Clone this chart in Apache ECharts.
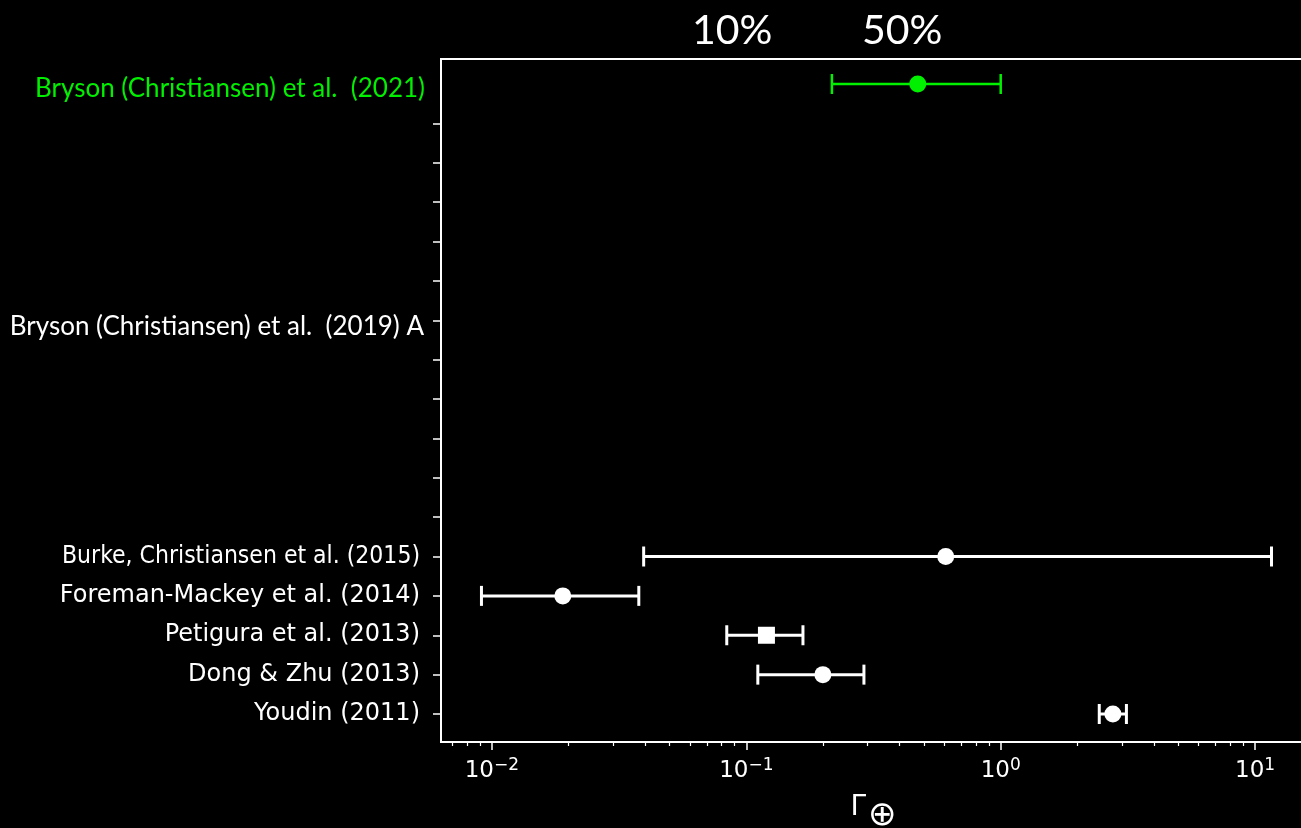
<!DOCTYPE html>
<html>
<head>
<meta charset="utf-8">
<script src="https://cdn.jsdelivr.net/npm/echarts@6/dist/echarts.min.js"></script>
<style>
html,body{margin:0;padding:0;background:#000;}
#chart{width:1301px;height:828px;}
</style>
</head>
<body>
<div id="chart"></div>
<script>
// ---- data ----
const rowLabels = ['Youdin (2011)', 'Dong & Zhu (2013)', 'Petigura et al. (2013)',
  'Foreman-Mackey et al. (2014)', 'Burke, Christiansen et al. (2015)', '', '', '', '', '',
  'Bryson (Christiansen) et al.  (2019) A', '', '', '', '', '', 'Bryson (Christiansen) et al.  (2021)'];
const studies = ['Youdin (2011)', 'Dong & Zhu (2013)', 'Petigura et al. (2013)',
  'Foreman-Mackey et al. (2014)', 'Burke, Christiansen et al. (2015)', 'Bryson (Christiansen) et al.  (2021)'];
const studyRows = [0, 1, 2, 3, 4, 16];
const estimates = [2.76, 0.200, 0.120, 0.019, 0.608, 0.472];
const lowerBounds = [2.44, 0.111, 0.0838, 0.0091, 0.0395, 0.217];
const upperBounds = [3.12, 0.290, 0.167, 0.0378, 11.6, 1.0];
const markerShapes = ['circle', 'circle', 'rect', 'circle', 'circle', 'circle'];
const highlighted = [false, false, false, false, false, true];
const xDecades = [-2, -1, 0, 1];
const overlayLabels = ['10%', '50%'];

// ---- helpers ----
const WHITE = '#ffffff';
const GREEN = '#00f000';
const L = Math.log10;
const xMin = -2.2, xMax = 1.2;
const minorTicks = [];
for (let d = -3; d <= 1; d++) {
  for (let k = 2; k <= 9; k++) {
    const v = L(k) + d;
    if (v > xMin && v < xMax) minorTicks.push(v);
  }
}
const labelRows = rowLabels.map((t, i) => t ? i : null).filter(v => v !== null);
const tickRows = [];
for (let i = 0; i < 16; i++) tickRows.push(i);

const errData = studies.map((s, i) => ({
  value: [L(lowerBounds[i]), L(upperBounds[i]), studyRows[i]],
  color: highlighted[i] ? GREEN : WHITE
}));
const ptData = studies.map((s, i) => ({
  name: s,
  value: [L(estimates[i]), studyRows[i]],
  symbol: markerShapes[i],
  itemStyle: { color: highlighted[i] ? GREEN : WHITE, opacity: 1 }
}));

const chart = echarts.init(document.getElementById('chart'));
chart.setOption({
  backgroundColor: '#000',
  animation: false,
  grid: { left: 441, top: 59, width: 865, height: 683, show: true, borderColor: WHITE, borderWidth: 2, backgroundColor: 'transparent', outerBoundsMode: 'none', containLabel: false },
  xAxis: [{
    type: 'value', min: xMin, max: xMax,
    axisLine: { show: true, onZero: false, lineStyle: { color: WHITE, width: 2 } },
    axisTick: { show: true, customValues: xDecades, length: 8, lineStyle: { color: WHITE, width: 1.5 } },
    splitLine: { show: false },
    axisLabel: {
      customValues: xDecades, margin: 15, color: WHITE,
      formatter: v => '{b|10}{s|' + (v < 0 ? '\u2212' + (-v) : v) + '}',
      rich: {
        b: { fontFamily: 'DejaVu Sans', fontSize: 23, color: WHITE },
        s: { fontFamily: 'DejaVu Sans', fontSize: 17, color: WHITE, padding: [0, 0, 12, 0] }
      }
    },
    name: '{g|\u0393}{o|\u2295}',
    nameLocation: 'middle', nameGap: 41,
    nameTextStyle: {
      rich: {
        g: { fontFamily: 'DejaVu Sans', fontSize: 28, color: WHITE },
        o: { fontFamily: 'DejaVu Sans', fontSize: 34, color: WHITE, padding: [16, 0, 0, 2] }
      }
    }
  }, {
    type: 'value', min: xMin, max: xMax, position: 'bottom',
    axisLine: { show: false, onZero: false },
    axisTick: { show: true, customValues: minorTicks, length: 4, lineStyle: { color: WHITE, width: 1.2 } },
    axisLabel: { show: false },
    splitLine: { show: false }
  }],
  yAxis: {
    type: 'value', min: -0.711, max: 16.635,
    axisLine: { show: true, onZero: false, lineStyle: { color: WHITE, width: 2 } },
    axisTick: { show: true, customValues: tickRows, length: 8, lineStyle: { color: WHITE, width: 1.5 } },
    splitLine: { show: false },
    axisLabel: {
      customValues: labelRows, margin: 16,
      formatter: v => {
        const r = Math.round(v);
        const t = rowLabels[r] || '';
        if (r === 16) return '{g|' + t + '}';
        if (r === 10) return '{w|' + t + '}';
        if (r === 4) return '{c|' + t + '}';
        return '{m|' + t + '}';
      },
      rich: {
        m: { fontFamily: 'DejaVu Sans', fontSize: 24, color: WHITE, padding: [0, 5, 0, 0] },
        c: { fontFamily: 'DejaVu Sans Condensed', fontSize: 24.5, color: WHITE, padding: [0, 5, 0, 0] },
        g: { fontFamily: 'Lato', fontSize: 26, color: GREEN, padding: [10, 0, 0, 0] },
        w: { fontFamily: 'Lato', fontSize: 26, color: WHITE, padding: [12, 1, 0, 0] }
      }
    }
  },
  graphic: [
    { type: 'text', left: 692, top: 10, style: { text: overlayLabels[0], fontFamily: 'Lato', fontSize: 41, fill: WHITE } },
    { type: 'text', left: 862, top: 10, style: { text: overlayLabels[1], fontFamily: 'Lato', fontSize: 41, fill: WHITE } }
  ],
  series: [{
    type: 'custom',
    data: errData,
    renderItem: (params, api) => {
      const y = api.value(2);
      const p1 = api.coord([api.value(0), y]);
      const p2 = api.coord([api.value(1), y]);
      const c = errData[params.dataIndex].color;
      const w = c === GREEN ? 2.5 : 3;
      const h = 10;
      const st = { stroke: c, lineWidth: w };
      return {
        type: 'group',
        children: [
          { type: 'line', shape: { x1: p1[0], y1: p1[1], x2: p2[0], y2: p2[1] }, style: st },
          { type: 'line', shape: { x1: p1[0], y1: p1[1] - h, x2: p1[0], y2: p1[1] + h }, style: st },
          { type: 'line', shape: { x1: p2[0], y1: p2[1] - h, x2: p2[0], y2: p2[1] + h }, style: st }
        ]
      };
    },
    z: 2
  }, {
    type: 'scatter',
    data: ptData,
    symbolSize: 17,
    z: 3
  }]
});
</script>
</body>
</html>
